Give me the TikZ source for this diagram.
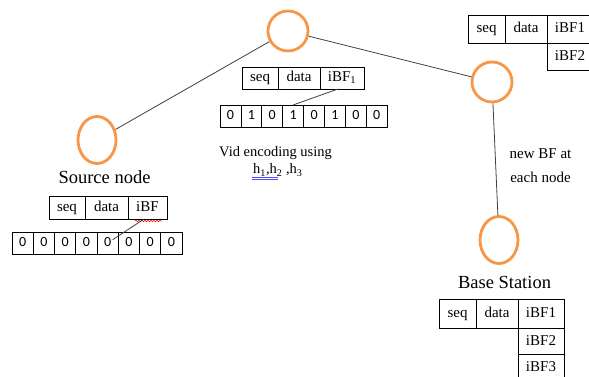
\documentclass[tikz,border=0pt]{standalone}
\usepackage{fontspec}
\setmainfont{Liberation Serif}
\newfontfamily\bitfont{Carlito}
\usepackage{tikz}
\usetikzlibrary{positioning,shapes.geometric,decorations.pathmorphing}
\definecolor{nodeorange}{HTML}{F79646}
\definecolor{linkgray}{HTML}{404040}

\begin{document}
\begin{tikzpicture}[
    x=1pt, y=-1pt,
    font=\fontsize{14.5}{16}\selectfont,
    mote/.style={
        draw=nodeorange,
        line width=2.8pt,
        circle,
        minimum size=40pt,
        inner sep=0pt
    },
    sink/.style={
        draw=nodeorange,
        line width=2.8pt,
        ellipse,
        minimum width=38pt,
        minimum height=47pt,
        inner sep=0pt
    },
    link/.style={draw=linkgray, line width=0.8pt},
    cell/.style={
        draw,
        line width=0.7pt,
        anchor=west,
        inner sep=0pt,
        outer sep=0pt,
        text height=10.5pt,
        text depth=3pt
    },
    pkt/.style={cell, minimum height=23pt, font=\fontsize{15}{17}\selectfont},
    bit/.style={cell, minimum width=21pt, minimum height=22pt,
        font=\bitfont\fontsize{14}{16}\selectfont},
    title/.style={font=\fontsize{18.5}{22}\selectfont}
]
\useasboundingbox (0,0) rectangle (589,377);

% sensor nodes
\node[mote] (hop1) at (288,31) {};
\node[mote] (hop2) at (492,82) {};
\node[sink] (src) at (97,140) {};
\node[sink] (bs) at (499,240) {};

\draw[link] (src) -- (hop1);
\draw[link] (hop1) -- (hop2);
\draw[link] (hop2) -- (bs);

\node[title] (srclabel) at (104.5,177.5) {Source node};
\node[title] (bslabel) at (504.5,282) {Base Station};

% packet at the source
\node[pkt, minimum width=36pt] (sseq) at (49,208) {seq};
\node[pkt, minimum width=43pt, right=0pt of sseq] (sdata) {data};
\node[pkt, minimum width=39pt, right=0pt of sdata] (sibf) {iBF};
\draw[red, line width=0.5pt, decorate,
    decoration={snake, amplitude=0.8pt, segment length=3pt}] (135,221) -- (162,221);

\node[bit, minimum width=21.25pt] (sb1) at (12,243) {0};
\foreach \b [count=\i from 2] in {0,0,0,0,0,0,0} {
    \pgfmathtruncatemacro\j{\i-1}
    \node[bit, minimum width=21.25pt, right=0pt of sb\j] (sb\i) {\b};
}
\draw[link] (sibf.250) -- (sb5.center) [shorten >=6pt];

% packet after the first hop
\node[pkt, minimum width=36pt, minimum height=22pt] (mseq) at (242,78) {seq};
\node[pkt, minimum width=42pt, minimum height=22pt, right=0pt of mseq] (mdata) {data};
\node[pkt, minimum width=44pt, minimum height=22pt, right=0pt of mdata] (mibf) {iBF\textsubscript{1}};

\node[bit, minimum width=20.9pt] (mb1) at (220,116) {0};
\foreach \b [count=\i from 2] in {1,0,1,0,1,0,0} {
    \pgfmathtruncatemacro\j{\i-1}
    \node[bit, minimum width=20.9pt, right=0pt of mb\j] (mb\i) {\b};
}
\draw[link] (mibf.250) -- (mb4.north);

\node[anchor=west, inner sep=0pt] (vid) at (219,153) {Vid encoding using};
\node[anchor=west, inner sep=0pt] (hfun) at (253,170)
    {h\textsubscript{1},h\textsubscript{2} ,h\textsubscript{3}};
\draw[blue!70, line width=0.5pt] (252,177.6) -- (278,177.6);
\draw[blue!70, line width=0.5pt] (252,179.4) -- (278,179.4);

% packet at the second hop
\node[pkt, minimum width=37pt, minimum height=28pt] (rseq) at (468,29) {seq};
\node[pkt, minimum width=42pt, minimum height=28pt, right=0pt of rseq] (rdata) {data};
\node[pkt, minimum width=46pt, minimum height=28pt, right=0pt of rdata] (ribfa) {iBF1};
\node[pkt, minimum width=46pt, minimum height=27pt, below=0pt of ribfa] (ribfb) {iBF2};

\node[align=center, font=\fontsize{15}{24}\selectfont] (newbf) at (540.5,166) {new BF at\\each node};

% packet at the base station
\node[pkt, minimum width=37pt, minimum height=29pt] (bseq) at (439,314) {seq};
\node[pkt, minimum width=42pt, minimum height=29pt, right=0pt of bseq] (bdata) {data};
\node[pkt, minimum width=46pt, minimum height=29pt, right=0pt of bdata] (bibfa) {iBF1};
\node[pkt, minimum width=46pt, minimum height=26pt, below=0pt of bibfa] (bibfb) {iBF2};
\node[pkt, minimum width=46pt, minimum height=26pt, below=0pt of bibfb] (bibfc) {iBF3};
\end{tikzpicture}
\end{document}
